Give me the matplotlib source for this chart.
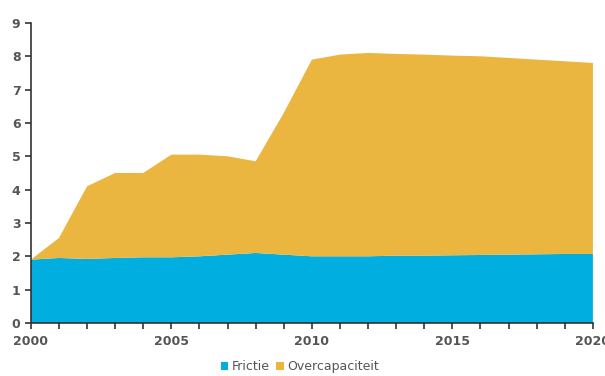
import matplotlib
matplotlib.use("Agg")
import matplotlib.pyplot as plt
import numpy as np

# years and the two stacked components
years = list(range(2000, 2021))
frictie = [1.90, 1.95, 1.92, 1.95, 1.97, 1.97, 2.00, 2.05, 2.10, 2.05, 2.00,
           2.00, 2.00, 2.02, 2.02, 2.03, 2.04, 2.05, 2.06, 2.07, 2.07]
totaal = [1.90, 2.55, 4.10, 4.50, 4.50, 5.05, 5.05, 5.00, 4.85, 6.30, 7.90,
          8.05, 8.10, 8.07, 8.05, 8.02, 8.00, 7.95, 7.90, 7.85, 7.80]
overcapaciteit = [t - f for t, f in zip(totaal, frictie)]

blue = "#00AEDF"
gold = "#EBB640"
grey = "#555555"

fig = plt.figure(figsize=(6.05, 3.76), dpi=100)
ax = fig.add_axes([0.051, 0.141, 0.929, 0.798])

ax.stackplot(years, frictie, overcapaciteit, colors=[blue, gold],
             labels=["Frictie", "Overcapaciteit"], linewidth=0)

ax.set_xlim(2000, 2020)
ax.set_ylim(0, 9)
ax.set_xticks(years)
ax.set_xticklabels([str(y) if y % 5 == 0 else "" for y in years])
ax.set_yticks(range(0, 10))

for s in ["top", "right"]:
    ax.spines[s].set_visible(False)
for s in ["left", "bottom"]:
    ax.spines[s].set_color("#333333")
    ax.spines[s].set_linewidth(1.2)

ax.tick_params(axis="both", colors="#333333", labelcolor=grey, labelsize=9,
               length=4, width=1.2, direction="out")
ax.tick_params(axis="x", pad=5)
for lbl in ax.get_xticklabels() + ax.get_yticklabels():
    lbl.set_fontweight("bold")

ax.legend(loc="center", bbox_to_anchor=(0.479, -0.145), ncol=2,
          frameon=False, fontsize=9, handlelength=0.6, handleheight=0.6,
          handletextpad=0.3, columnspacing=0.5, labelcolor=grey,
          borderpad=0.1)

fig.savefig("out.png", dpi=100)
